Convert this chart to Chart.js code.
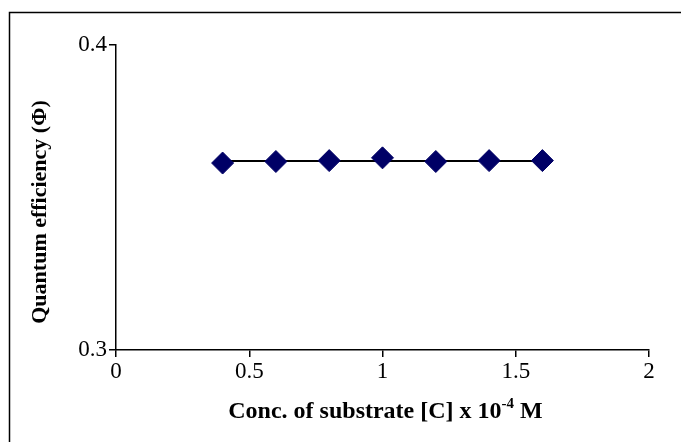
<!DOCTYPE html>
<html>
<head>
<meta charset="utf-8">
<script src="https://cdn.jsdelivr.net/npm/chart.js@4/dist/chart.umd.min.js"></script>
<style>
html,body{margin:0;padding:0;background:#fff;}
#wrap{width:681px;height:442px;position:relative;}
</style>
</head>
<body>
<div id="wrap"><canvas id="c" width="681" height="442"></canvas></div>
<script>
// Data
const concentrations = [0.4, 0.6, 0.8, 1.0, 1.2, 1.4, 1.6];
const quantumEfficiency = [0.3613, 0.3618, 0.3621, 0.3630, 0.3618, 0.3621, 0.3621];
const trendX = [0.4, 1.6];
const trendY = [0.3620, 0.3620];
const xTickValues = [0, 0.5, 1, 1.5, 2];
const xTickLabels = ['0', '0.5', '1', '1.5', '2'];
const yTickValues = [0.3, 0.4];
const yTickLabels = ['0.3', '0.4'];
const yTitle = 'Quantum efficiency (\u03A6)';
const xTitleParts = ['Conc. of substrate [C] x 10', '-4', ' M'];

const SERIF = '"Liberation Serif", "Times New Roman", serif';

const framePlugin = {
  id: 'frame',
  afterDraw(chart) {
    const ctx = chart.ctx;
    ctx.save();
    ctx.strokeStyle = '#000';
    ctx.lineWidth = 1.5;
    ctx.strokeRect(9.5, 12.5, 700, 500);
    ctx.fillStyle = '#000';
    // y-axis title
    ctx.save();
    ctx.translate(40, 212);
    ctx.rotate(-Math.PI / 2);
    ctx.font = 'bold 22px ' + SERIF;
    ctx.textAlign = 'center';
    ctx.textBaseline = 'middle';
    ctx.fillText(yTitle, 0, 0);
    ctx.restore();
    // x-axis title with superscript
    const mainFont = 'bold 24px ' + SERIF;
    const supFont = 'bold 15px ' + SERIF;
    ctx.textBaseline = 'alphabetic';
    ctx.font = mainFont;
    const w0 = ctx.measureText(xTitleParts[0]).width;
    const w2 = ctx.measureText(xTitleParts[2]).width;
    ctx.font = supFont;
    const w1 = ctx.measureText(xTitleParts[1]).width;
    const total = w0 + w1 + w2;
    const cx = (chart.chartArea.left + chart.chartArea.right) / 2 + 3;
    let x = cx - total / 2;
    const baseY = 418;
    ctx.font = mainFont;
    ctx.textAlign = 'left';
    ctx.fillText(xTitleParts[0], x, baseY);
    x += w0;
    ctx.font = supFont;
    ctx.fillText(xTitleParts[1], x, baseY - 10);
    x += w1;
    ctx.font = mainFont;
    ctx.fillText(xTitleParts[2], x, baseY);
    ctx.restore();
  }
};

new Chart(document.getElementById('c'), {
  type: 'scatter',
  data: {
    datasets: [
      {
        label: 'Quantum efficiency',
        data: concentrations.map((x, i) => ({x: x, y: quantumEfficiency[i]})),
        showLine: false,
        pointStyle: 'rectRot',
        pointRadius: 11,
        pointHoverRadius: 11,
        backgroundColor: '#000066',
        borderColor: '#000066',
        borderWidth: 1,
        order: 1
      },
      {
        label: 'Trend',
        data: trendX.map((x, i) => ({x: x, y: trendY[i]})),
        showLine: true,
        borderColor: '#000',
        borderWidth: 2,
        pointRadius: 0,
        pointHoverRadius: 0,
        order: 2
      }
    ]
  },
  options: {
    responsive: false,
    animation: false,
    events: [],
    layout: {padding: {top: 45, right: 32, left: 0, bottom: 0}},
    plugins: {legend: {display: false}, tooltip: {enabled: false}},
    scales: {
      x: {
        type: 'linear',
        min: 0, max: 2,
        afterBuildTicks(scale) { scale.ticks = xTickValues.map(v => ({value: v})); },
        afterFit(scale) { scale.height = 92; },
        ticks: {
          color: '#000',
          font: {family: SERIF, size: 23},
          padding: 1,
          maxRotation: 0,
          callback(v) { const i = xTickValues.indexOf(v); return i >= 0 ? xTickLabels[i] : ''; }
        },
        grid: {display: true, drawOnChartArea: false, drawTicks: true, tickLength: 7, color: '#000', lineWidth: 1.5},
        border: {display: true, color: '#000', width: 1.5}
      },
      y: {
        type: 'linear',
        min: 0.3, max: 0.4,
        afterBuildTicks(scale) { scale.ticks = yTickValues.map(v => ({value: v})); },
        afterFit(scale) { scale.width = 116; },
        title: {display: false},
        ticks: {
          color: '#000',
          font: {family: SERIF, size: 23},
          padding: 2,
          callback(v) { const i = yTickValues.indexOf(v); return i >= 0 ? yTickLabels[i] : ''; }
        },
        grid: {display: true, drawOnChartArea: false, drawTicks: true, tickLength: 7, color: '#000', lineWidth: 1.5},
        border: {display: true, color: '#000', width: 1.5}
      }
    }
  },
  plugins: [framePlugin]
});
</script>
</body>
</html>
